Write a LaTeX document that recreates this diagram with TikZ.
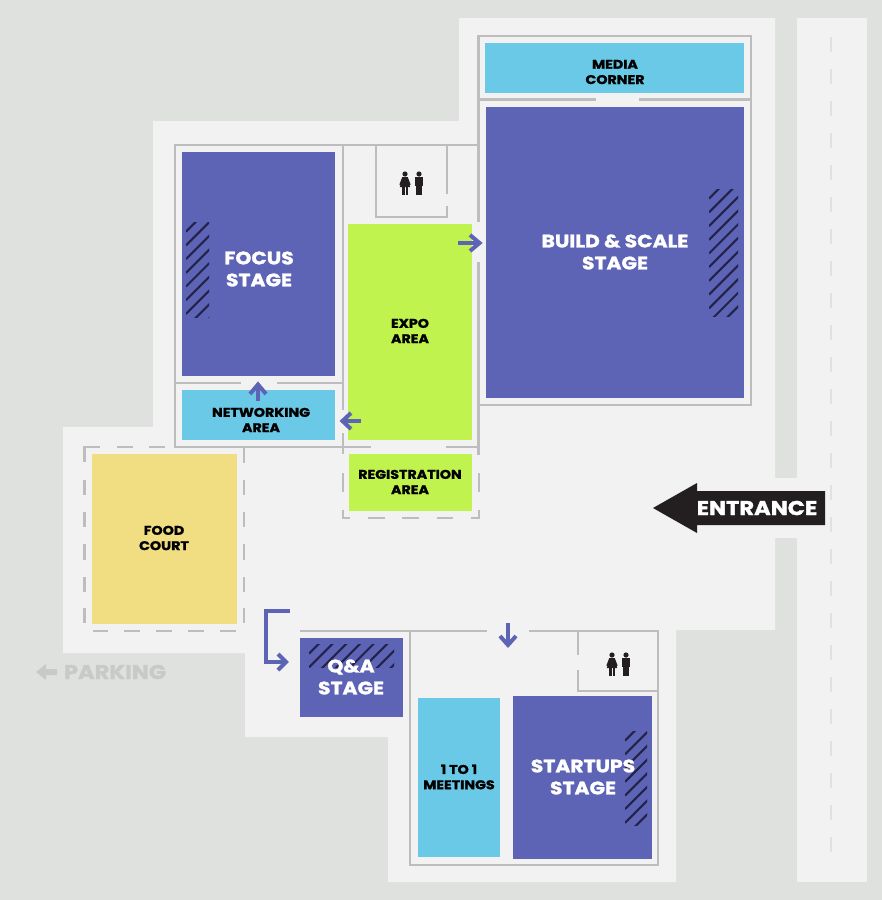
\documentclass[tikz,border=0pt]{standalone}
\usepackage{fontspec}
\setmainfont{Poppins}[BoldFeatures={FakeBold=1.5,FakeStretch=1.13}]
\definecolor{bgc}{HTML}{DFE1DF}
\definecolor{floorc}{HTML}{F2F2F2}
\definecolor{wallc}{HTML}{BDBDBD}
\definecolor{dashc}{HTML}{E0E1E0}
\definecolor{stagec}{HTML}{5D63B5}
\definecolor{bluec}{HTML}{6AC9E6}
\definecolor{limec}{HTML}{C0F34E}
\definecolor{foodc}{HTML}{F2DE82}
\definecolor{hatchc}{HTML}{23234A}
\definecolor{blackc}{HTML}{231F20}
\definecolor{parkc}{HTML}{C8CAC8}
\tikzset{
  wall/.style={draw=wallc,line width=2.7pt,line cap=butt,miter limit=10},
  biglabel/.style={text=white,align=center,font=\fontsize{18}{22}\selectfont\bfseries,inner sep=0pt},
  smalllabel/.style={text=black,align=center,font=\fontsize{12.6}{15.3}\selectfont\bfseries,inner sep=0pt},
  hatchline/.style={draw=hatchc,line width=2.1pt},
  flow/.style={draw=stagec,line width=4pt,line join=miter},
  icon/.style={fill=blackc,draw=none}
}
\newcommand{\hatchbox}[4]{%
  \begin{scope}
    \clip (#1,#2) rectangle (#3,#4);
    \foreach \c in {0,1,...,22} {
      \draw[hatchline] (#1,#2+\c*13.7-4) -- ++(\c*13.7+6,-\c*13.7-6);
    }
  \end{scope}}
\newcommand{\woman}[2]{%
  \fill[icon] (#1,#2+3) circle (2.6);
  \fill[icon] (#1-2.8,#2+6.2) -- (#1+2.8,#2+6.2) -- (#1+5.6,#2+13.5) -- (#1+4.6,#2+14) -- (#1+5.2,#2+16) -- (#1-5.2,#2+16) -- (#1-4.6,#2+14) -- (#1-5.6,#2+13.5) -- cycle;
  \fill[icon] (#1-2.6,#2+15) rectangle (#1-0.5,#2+24);
  \fill[icon] (#1+0.5,#2+15) rectangle (#1+2.6,#2+24);}
\newcommand{\man}[2]{%
  \fill[icon] (#1,#2+3) circle (2.6);
  \fill[icon] (#1-4.4,#2+6.2) rectangle (#1+4.4,#2+15);
  \fill[icon] (#1-2.9,#2+12) rectangle (#1-0.3,#2+24);
  \fill[icon] (#1+0.3,#2+12) rectangle (#1+2.9,#2+24);}
\begin{document}
\begin{tikzpicture}[x=1pt,y=-1pt]
\useasboundingbox (0,0) rectangle (882,900);
\fill[bgc] (0,0) rectangle (882,900);
% floor
\fill[floorc] (459,18) -- (775,18) -- (775,630) -- (676,630) -- (676,882) -- (388,882) -- (388,737) -- (245,737) -- (245,653) -- (63,653) -- (63,427) -- (153,427) -- (153,121) -- (459,121) -- cycle;
\fill[floorc] (797,18) rectangle (867,882);
\fill[floorc] (775,478) rectangle (797,538);
% road markings
\foreach \k in {0,1,...,25} { \draw[dashc,line width=2pt] (831,37+\k*32) -- (831,52+\k*32); }
% walls
\draw[wall] (478.5,222) -- (478.5,36) -- (751,36) -- (751,405) -- (478.5,405);
\draw[wall] (478.5,262) -- (478.5,455);
\draw[wall] (478.5,99.5) -- (596,99.5) (639,99.5) -- (751,99.5);
\draw[wall] (371,447) -- (175,447) -- (175,145) -- (478.5,145);
\draw[wall] (446,447) -- (478.5,447);
\draw[wall] (343,145) -- (343,410) (343,433) -- (343,454);
\draw[wall] (175,383) -- (241,383) (277,383) -- (343,383);
\draw[wall] (376,145) -- (376,217) -- (447,217) -- (447,206) (447,194) -- (447,145);
\draw[wall] (300,631) -- (487,631) (529,631) -- (658,631) -- (658,865) -- (410,865) -- (410,631);
\draw[wall] (578,631) -- (578,655) (578,670) -- (578,691) -- (658,691);
% dashed registration enclosure
\draw[wall] (343,473) -- (343,492) (343,510) -- (343,518) -- (350,518);
\draw[wall] (368,518) -- (385,518) (402,518) -- (419,518) (437,518) -- (453,518);
\draw[wall] (471,518) -- (479,518) -- (479,510) (479,492) -- (479,473);
% dashed food-court enclosure
\draw[wall] (84.5,462) -- (84.5,447) -- (100,447) (117,447) -- (133,447) (149,447) -- (165,447);
\draw[wall] (244,447) -- (244,463);
\foreach \a/\b in {480/495,512/527,544/560,577/592,608/623} {
  \draw[wall] (84.5,\a) -- (84.5,\b);
  \draw[wall] (244,\a) -- (244,\b);
}
\foreach \a/\b in {93/108,124/140,156/172,188/204,220/236} { \draw[wall] (\a,631) -- (\b,631); }
% rooms
\fill[bluec] (485,43) rectangle (744,93);
\fill[stagec] (486,107) rectangle (744,398);
\fill[stagec] (182,152) rectangle (335,376);
\fill[bluec] (182,390) rectangle (335,440);
\fill[limec] (348,224) rectangle (472,440);
\fill[limec] (349,454) rectangle (472,511);
\fill[foodc] (92,454) rectangle (237,624);
\fill[stagec] (300,638) rectangle (403,717);
\fill[bluec] (418,698) rectangle (500,857);
\fill[stagec] (513,696) rectangle (652,859);
% hatching
\hatchbox{186}{222}{209}{317}
\hatchbox{709}{189}{738}{316}
\hatchbox{309}{644}{394}{667}
\hatchbox{625}{731}{647}{825}
% labels
\node[smalllabel] (media) at (615,72) {MEDIA\\CORNER};
\node[biglabel] (build) at (615,252) {BUILD \& SCALE\\STAGE};
\node[biglabel] (focus) at (259,269) {FOCUS\\STAGE};
\node[smalllabel] (net) at (261,420) {NETWORKING\\AREA};
\node[smalllabel] (expo) at (410,331) {EXPO\\AREA};
\node[smalllabel] (reg) at (410,482) {REGISTRATION\\AREA};
\node[smalllabel] (food) at (164,538) {FOOD\\COURT};
\node[biglabel] (qa) at (351,677) {Q\&A\\STAGE};
\node[smalllabel] (one) at (459,777) {1 TO 1\\MEETINGS};
\node[biglabel] (start) at (583,777) {STARTUPS\\STAGE};
% flow arrows
\draw[flow] (458,243) -- (480,243);
\draw[flow] (470,235) -- (479.5,243) -- (470,251);
\draw[flow] (258,401) -- (258,385);
\draw[flow] (250,394) -- (258,384.5) -- (266,394);
\draw[flow] (361,421) -- (342,421);
\draw[flow] (351,413) -- (342.5,421) -- (351,429);
\draw[flow] (508,623) -- (508,645);
\draw[flow] (500,636) -- (508,645) -- (516,636);
\draw[flow] (290,611) -- (266,611) -- (266,662) -- (286,662);
\draw[flow] (278,654) -- (286,662) -- (278,670);
% entrance
\fill[blackc] (653,508) -- (697,483) -- (697,491) -- (825,491) -- (825,525) -- (697,525) -- (697,533) -- cycle;
\node[text=white,inner sep=0pt,font=\fontsize{20}{24}\selectfont\bfseries] (entrance) at (757,508) {ENTRANCE};
% parking
\fill[parkc] (36,672) -- (46,664) -- (46,669) -- (57,669) -- (57,675) -- (46,675) -- (46,680) -- cycle;
\node[text=parkc,inner sep=0pt,font=\fontsize{20}{24}\selectfont\bfseries] (parking) at (115,672) {PARKING};
% restroom icons
\woman{405}{171}\man{419}{171}
\woman{612}{652}\man{626}{652}
\end{tikzpicture}
\end{document}
